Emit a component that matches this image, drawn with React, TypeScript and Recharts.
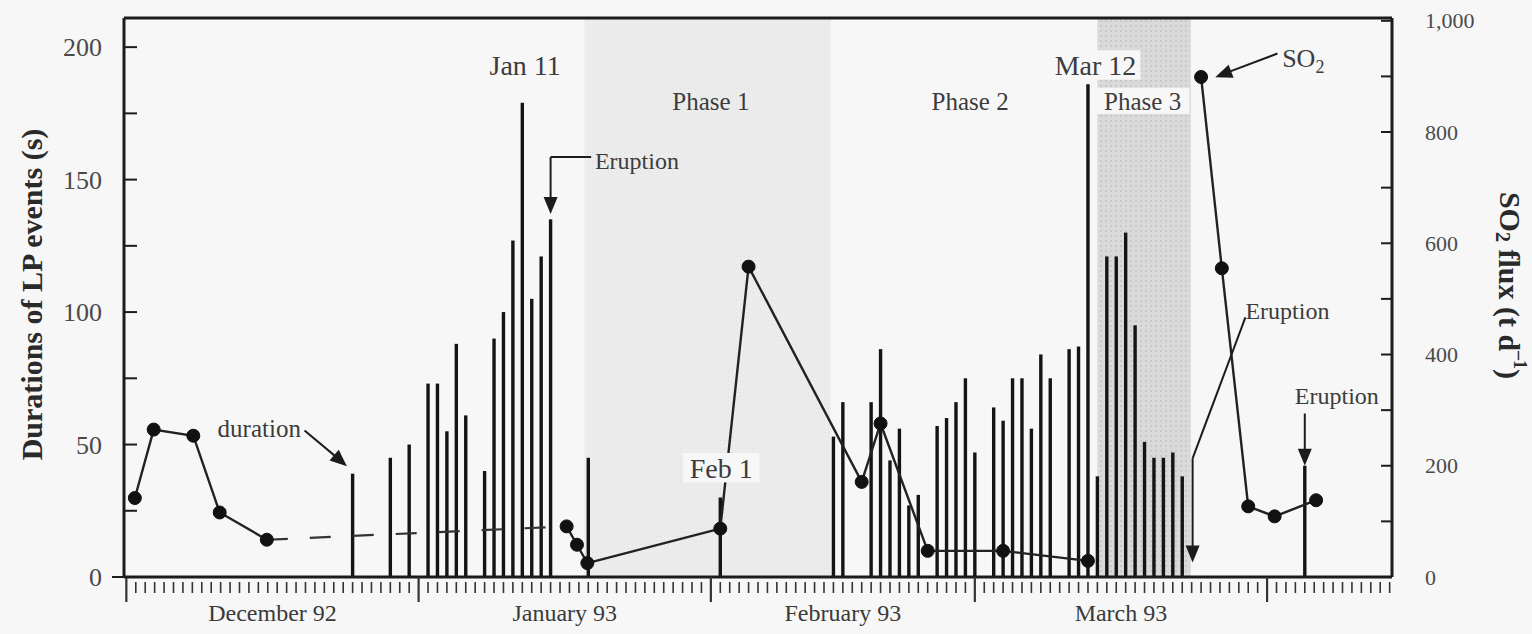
import React from 'react'
import {
  ComposedChart,
  Bar,
  Line,
  XAxis,
  YAxis,
  ReferenceArea,
  ReferenceLine,
  ReferenceDot,
} from 'recharts'

const FONT = '"Liberation Serif", "Times New Roman", serif'
const INK = '#1c1c1c'
const TEXT = '#3c3c3c'

// x = days after 1 December 1992 (day 0)
const monthStarts = [0, 31, 62, 90, 121]
const monthCentres = [15.5, 46.5, 76, 105.5]
const monthLabels = ['December 92', 'January 93', 'February 93', 'March 93']
const dayTicks = Array.from({ length: 135 }, (_, i) => i)

// LP event durations (s)
const lpDays = [
  24, 28, 30, 32, 33, 34, 35, 36, 38, 39, 40, 41, 42, 43, 44, 45, 49, 63, 75, 76, 79, 80, 81, 82,
  83, 84, 86, 87, 88, 89, 90, 92, 93, 94, 95, 96, 97, 98, 100, 101, 102, 103, 104, 105, 106, 107,
  108, 109, 110, 111, 112, 125,
]
const lpDurations = [
  39, 45, 50, 73, 73, 55, 88, 61, 40, 90, 100, 127, 179, 105, 121, 135, 45, 30, 53, 66, 66, 86, 44,
  56, 27, 31, 57, 60, 66, 75, 47, 64, 59, 75, 75, 56, 84, 75, 86, 87, 186, 38, 121, 121, 130, 95,
  51, 45, 45, 47, 38, 42,
]

// SO2 flux (t/d), measured in three runs
const so2DecDays = [0.9, 2.9, 7.1, 9.9, 14.9]
const so2DecFlux = [142, 265, 254, 116, 67]
const so2MainDays = [46.7, 47.8, 48.9, 63, 66, 78, 80, 85, 93, 102]
const so2MainFlux = [91, 58, 25, 87, 558, 171, 276, 47, 47, 29]
const so2LateDays = [114, 116.2, 119, 121.8, 126.2]
const so2LateFlux = [899, 555, 127, 109, 138]

const durationTicks = [0, 25, 50, 75, 100, 125, 150, 175, 200]
const fluxTicks = [0, 100, 200, 300, 400, 500, 600, 700, 800, 900, 1000]

const phase1 = [48.6, 74.7]
const phase3 = [103, 112.9]

const X_DOMAIN = [-0.25, 134.25]
const DUR_MAX = 211
const FLUX_MAX = 1005

const toRows = (days: number[], vals: number[]) => days.map((day, i) => ({ day, so2: vals[i] }))
const lpRows = lpDays.map((day, i) => ({ day, dur: lpDurations[i] }))
const so2Dec = toRows(so2DecDays, so2DecFlux)
const so2Main = toRows(so2MainDays, so2MainFlux)
const so2Late = toRows(so2LateDays, so2LateFlux)
const so2Gap = [so2Dec[so2Dec.length - 1], so2Main[0]]

type Note = {
  text: string
  day: number
  value: number
  size: number
  anchor?: 'start' | 'middle' | 'end'
  bg?: boolean
}

const notes: Note[] = [
  { text: 'Jan 11', day: 42.3, value: 193, size: 28 },
  { text: 'Mar 12', day: 102.8, value: 193, size: 28, bg: true },
  { text: 'Phase 1', day: 62, value: 179.5, size: 25 },
  { text: 'Phase 2', day: 89.5, value: 179.5, size: 25 },
  { text: 'Phase 3', day: 107.8, value: 179.5, size: 25, bg: true },
  { text: 'Eruption', day: 49.7, value: 157, size: 24, anchor: 'start' },
  { text: 'Feb 1', day: 63.1, value: 41, size: 28, bg: true },
  { text: 'duration', day: 14.1, value: 56, size: 25 },
  { text: 'Eruption', day: 118.7, value: 100.5, size: 24, anchor: 'start' },
  { text: 'Eruption', day: 128.4, value: 68.5, size: 24 },
]

const leaders = [
  [[49.3, 158.5], [45, 158.5]],
  [[45, 158.5], [45, 141]],
  [[18.9, 55.3], [22.6, 44.3]],
  [[122.1, 197.6], [116.6, 190.2]],
  [[118.7, 98], [113.1, 44.8]],
  [[113.1, 44.8], [113.1, 10]],
  [[125, 61.7], [125, 46]],
]

const arrowHeads = [
  { day: 45, value: 137, angle: 90 },
  { day: 23.4, value: 41.8, angle: 41 },
  { day: 115.5, value: 188.6, angle: 159 },
  { day: 113.1, value: 5.5, angle: 90 },
  { day: 125, value: 42, angle: 90 },
]

const LEFT_GAP = 22
const RIGHT_GAP = 33

const LeftTick = ({ x, y, payload }: any) => {
  const v = payload.value
  const ax = x + LEFT_GAP
  return (
    <g>
      <line x1={v === 0 ? ax - 12 : ax} x2={ax + 13} y1={y} y2={y} stroke={INK} strokeWidth={2} />
      {v % 50 === 0 && (
        <text x={x} y={y} dy="0.35em" textAnchor="end" fontFamily={FONT} fontSize={26} fill="#4a4a4a">
          {v}
        </text>
      )}
    </g>
  )
}

const RightTick = ({ x, y, payload }: any) => {
  const v = payload.value
  const ax = x - RIGHT_GAP
  return (
    <g>
      <line x1={ax - 11} x2={ax} y1={y} y2={y} stroke={INK} strokeWidth={2} />
      {v % 200 === 0 && (
        <text x={x} y={y} dy="0.35em" textAnchor="start" fontFamily={FONT} fontSize={22} fill="#4a4a4a">
          {v.toLocaleString('en-US')}
        </text>
      )}
    </g>
  )
}

const DayTick = ({ x, y, payload }: any) => {
  const major = monthStarts.includes(payload.value)
  return (
    <line
      x1={x}
      x2={x}
      y1={major ? y : y + 5}
      y2={major ? y + 25 : y + 16}
      stroke="#333"
      strokeWidth={major ? 2.2 : 1.6}
    />
  )
}

const MonthTick = ({ x, y, payload }: any) => (
  <text x={x} y={y} dy={19} textAnchor="middle" fontFamily={FONT} fontSize={24} fill="#3a3a3a">
    {monthLabels[monthCentres.indexOf(payload.value)]}
  </text>
)

const LeftTitle = ({ viewBox }: any) => {
  const cx = viewBox.x + 26
  const cy = viewBox.y + viewBox.height / 2 - 3
  return (
    <text
      x={cx}
      y={cy}
      transform={`rotate(-90 ${cx} ${cy})`}
      textAnchor="middle"
      dominantBaseline="central"
      fontFamily={FONT}
      fontSize={30}
      fontWeight="bold"
      fill="#2a2a2a"
    >
      Durations of LP events (s)
    </text>
  )
}

const RightTitle = ({ viewBox }: any) => {
  const cx = viewBox.x + 118
  const cy = viewBox.y + viewBox.height / 2 - 12
  return (
    <text
      x={cx}
      y={cy}
      transform={`rotate(90 ${cx} ${cy})`}
      textAnchor="middle"
      dominantBaseline="central"
      fontFamily={FONT}
      fontSize={30}
      fontWeight="bold"
      fill="#2a2a2a"
    >
      SO
      <tspan fontSize={20} dy={7}>2</tspan>
      <tspan dy={-7}> flux (t d</tspan>
      <tspan fontSize={18} dy={-10}>–1</tspan>
      <tspan dy={10}>)</tspan>
    </text>
  )
}

const noteShape = (n: Note) => (props: any) => {
  const { cx, cy } = props
  const anchor = n.anchor || 'middle'
  const w = n.text.length * n.size * 0.5
  const left = anchor === 'start' ? cx : anchor === 'end' ? cx - w : cx - w / 2
  return (
    <g>
      {n.bg && <rect x={left - 3} y={cy - n.size * 0.55} width={w + 6} height={n.size * 1.05} fill="#f7f7f7" />}
      <text
        x={cx}
        y={cy}
        dy="0.35em"
        textAnchor={anchor}
        fontFamily={FONT}
        fontSize={n.size}
        fill={TEXT}
      >
        {n.text}
      </text>
    </g>
  )
}

const so2Label = (props: any) => (
  <text x={props.cx} y={props.cy} dy="0.35em" fontFamily={FONT} fontSize={26} fill={TEXT}>
    SO
    <tspan fontSize={18} dy={6}>2</tspan>
  </text>
)

const arrowShape = (angle: number) => (props: any) => (
  <polygon
    points="0,0 -17,-7 -17,7"
    transform={`translate(${props.cx} ${props.cy}) rotate(${angle})`}
    fill={INK}
  />
)

// thin stick drawn at the centre of the slot Recharts gives each bar
const StickBar = (props: any) => {
  const { x, y, width, height } = props
  if (!height) return null
  return <rect x={x + width / 2 - 1.7} y={y} width={3.4} height={height} fill="#141414" />
}

const so2Dot = { r: 6.5, fill: '#111', stroke: '#111', strokeWidth: 1 }

export default function App() {
  return (
    <div style={{ position: 'absolute', left: 0, top: 0, width: 1532, height: 634, background: '#f7f7f7' }}>
      <ComposedChart
        width={1532}
        height={634}
        data={lpRows}
        margin={{ top: 18, right: 5, bottom: 0, left: 5 }}
      >
        <defs>
          <pattern id="phase3Fill" width="5" height="5" patternUnits="userSpaceOnUse">
            <rect width="5" height="5" fill="#dadada" />
            <rect width="2" height="2" fill="#c9c9c9" />
          </pattern>
          <pattern id="phase1Fill" width="4" height="4" patternUnits="userSpaceOnUse">
            <rect width="4" height="4" fill="#ececec" />
            <rect width="1" height="1" fill="#e0e0e0" />
          </pattern>
        </defs>
        <XAxis
          dataKey="day"
          type="number"
          domain={X_DOMAIN}
          allowDataOverflow
          ticks={dayTicks}
          interval={0}
          tick={<DayTick />}
          tickSize={0}
          tickMargin={0}
          height={25}
          axisLine={{ stroke: INK, strokeWidth: 3 }}
          tickLine={false}
        />
        <XAxis
          xAxisId="month"
          dataKey="day"
          type="number"
          domain={X_DOMAIN}
          allowDataOverflow
          ticks={monthCentres}
          interval={0}
          tick={<MonthTick />}
          tickSize={0}
          tickMargin={0}
          height={32}
          axisLine={false}
          tickLine={false}
        />
        <YAxis
          yAxisId="left"
          domain={[0, DUR_MAX]}
          allowDataOverflow
          ticks={durationTicks}
          interval={0}
          tick={<LeftTick />}
          tickSize={0}
          tickMargin={LEFT_GAP}
          width={119}
          axisLine={{ stroke: INK, strokeWidth: 3 }}
          tickLine={false}
          label={<LeftTitle />}
        />
        <YAxis
          yAxisId="right"
          orientation="right"
          domain={[0, FLUX_MAX]}
          allowDataOverflow
          ticks={fluxTicks}
          interval={0}
          tick={<RightTick />}
          tickSize={0}
          tickMargin={RIGHT_GAP}
          width={135}
          axisLine={{ stroke: INK, strokeWidth: 3 }}
          tickLine={false}
          label={<RightTitle />}
        />

        <ReferenceArea
          yAxisId="left"
          x1={phase1[0]}
          x2={phase1[1]}
          y1={0}
          y2={DUR_MAX}
          fill="url(#phase1Fill) #ededed"
          fillOpacity={1}
          stroke="none"
        />
        <ReferenceArea
          yAxisId="left"
          x1={phase3[0]}
          x2={phase3[1]}
          y1={0}
          y2={DUR_MAX}
          fill="url(#phase3Fill) #d6d6d6"
          fillOpacity={1}
          stroke="none"
        />

        <Bar dataKey="dur" yAxisId="left" shape={<StickBar />} isAnimationActive={false} />

        <Line
          data={so2Gap}
          dataKey="so2"
          yAxisId="right"
          stroke="#333"
          strokeWidth={2.2}
          strokeDasharray="21 22"
          dot={false}
          isAnimationActive={false}
        />
        {[so2Dec, so2Main, so2Late].map((seg, i) => (
          <Line
            key={i}
            data={seg}
            dataKey="so2"
            yAxisId="right"
            stroke="#222"
            strokeWidth={2.4}
            dot={so2Dot}
            activeDot={false}
            isAnimationActive={false}
          />
        ))}

        <ReferenceLine yAxisId="left" y={DUR_MAX} stroke={INK} strokeWidth={3} />

        {leaders.map((s, i) => (
          <ReferenceLine
            key={`l${i}`}
            yAxisId="left"
            segment={[
              { x: s[0][0], y: s[0][1] },
              { x: s[1][0], y: s[1][1] },
            ]}
            stroke={INK}
            strokeWidth={2}
          />
        ))}
        {arrowHeads.map((a, i) => (
          <ReferenceDot key={`a${i}`} yAxisId="left" x={a.day} y={a.value} r={0} shape={arrowShape(a.angle)} />
        ))}
        {notes.map((n, i) => (
          <ReferenceDot key={`n${i}`} yAxisId="left" x={n.day} y={n.value} r={0} shape={noteShape(n)} />
        ))}
        <ReferenceDot yAxisId="left" x={122.6} y={196} r={0} shape={so2Label} />
      </ComposedChart>
    </div>
  )
}
